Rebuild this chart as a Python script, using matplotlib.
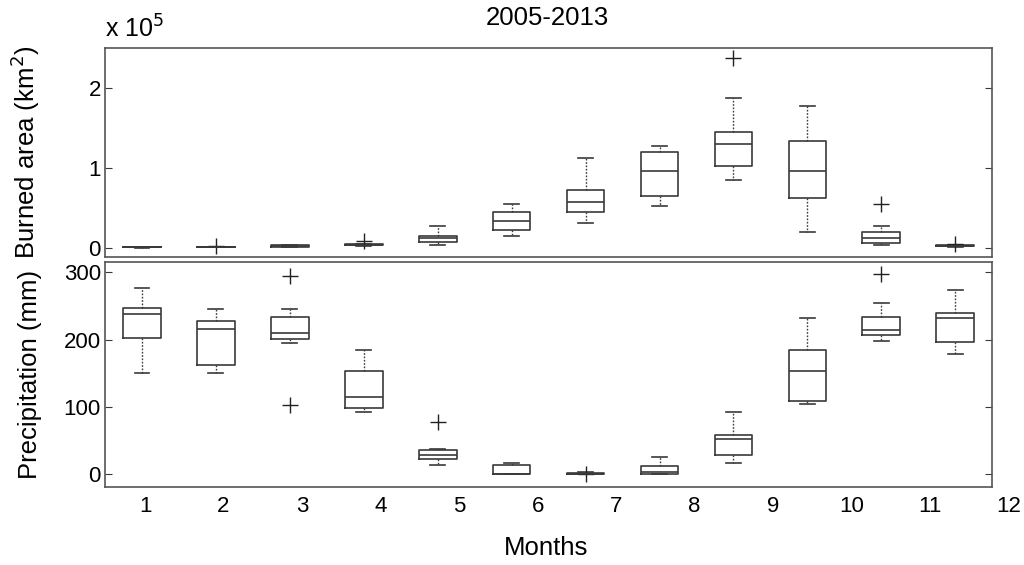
import matplotlib
matplotlib.use('Agg')
import matplotlib.pyplot as plt

plt.rcParams['font.family'] = ['Liberation Sans', 'DejaVu Sans']

months = list(range(1, 13))
month_labels = [str(m) for m in months]

# burned area, in units of 1e5 km2
ba_whislo = [0.003, 0.005, 0.012, 0.02, 0.04, 0.15, 0.31, 0.52, 0.85, 0.20, 0.03, 0.015]
ba_q1 = [0.005, 0.008, 0.015, 0.03, 0.07, 0.22, 0.45, 0.65, 1.025, 0.63, 0.06, 0.02]
ba_med = [0.008, 0.010, 0.02, 0.035, 0.12, 0.34, 0.57, 0.96, 1.30, 0.96, 0.12, 0.025]
ba_q3 = [0.012, 0.013, 0.03, 0.045, 0.15, 0.45, 0.72, 1.20, 1.45, 1.34, 0.20, 0.03]
ba_whishi = [0.015, 0.016, 0.033, 0.05, 0.27, 0.55, 1.12, 1.275, 1.87, 1.78, 0.27, 0.035]
ba_fliers = [[], [0.02], [], [0.08], [], [], [], [], [2.37], [], [0.55], [0.05]]

# precipitation, mm
pr_whislo = [151, 151, 195, 92, 14, 0, 0, 0, 17, 104, 198, 178]
pr_q1 = [203, 162, 201, 98, 23, 0, 0.5, 0.5, 28, 109, 207, 197]
pr_med = [238, 215, 210, 114, 28, 0.5, 1, 3.5, 53, 154, 214, 232]
pr_q3 = [247, 228, 233, 153, 36, 13, 2, 12, 58, 185, 233, 239]
pr_whishi = [276, 246, 246, 185, 38, 17, 3, 26, 92, 232, 254, 273]
pr_fliers = [[], [], [295, 103], [], [77], [], [1], [], [], [], [298], []]

line_col = '#3a3a3a'


def make_stats(lo, q1, med, q3, hi, fl):
    return [dict(whislo=a, q1=b, med=c, q3=d, whishi=e, fliers=f)
            for a, b, c, d, e, f in zip(lo, q1, med, q3, hi, fl)]


def draw(ax, stats):
    ax.bxp(stats, positions=months, widths=0.51, capwidths=0.2,
           showfliers=True, manage_ticks=False,
           boxprops=dict(color=line_col, linewidth=1.2),
           medianprops=dict(color=line_col, linewidth=1.2),
           whiskerprops=dict(color=line_col, linewidth=1.0, linestyle=(0, (1.2, 1.2))),
           capprops=dict(color=line_col, linewidth=1.2),
           flierprops=dict(marker='+', markeredgecolor='#222222', markersize=11,
                           markeredgewidth=1.0, linestyle='none'))
    ax.set_xlim(0.5, 12.5)
    ax.set_xticks([])
    ax.tick_params(axis='y', direction='in', left=True, right=True,
                   labelsize=16, length=5, color=line_col, pad=3)
    for s in ax.spines.values():
        s.set_color('#555555')
        s.set_linewidth(1.2)


fig = plt.figure(figsize=(10.24, 5.65), dpi=100)
ax1 = fig.add_axes([0.1025, 0.545, 0.8665, 0.370])
ax2 = fig.add_axes([0.1025, 0.138, 0.8665, 0.398])

draw(ax1, make_stats(ba_whislo, ba_q1, ba_med, ba_q3, ba_whishi, ba_fliers))
ax1.set_ylim(-0.115, 2.5)
ax1.set_yticks([0, 1, 2])
ax1.set_ylabel('Burned area (km$^2$)', fontsize=18.5)
ax1.yaxis.set_label_coords(-0.071, 0.5)
fig.text(547 / 1024, 1 - 18 / 565, '2005-2013', fontsize=18.5, ha='center', va='center')
fig.text(105 / 1024, 1 - 38 / 565, 'x 10$^5$', fontsize=18, ha='left', va='baseline')

draw(ax2, make_stats(pr_whislo, pr_q1, pr_med, pr_q3, pr_whishi, pr_fliers))
ax2.set_ylim(-19, 315)
ax2.set_yticks([0, 100, 200, 300])
ax2.set_ylabel('Precipitation (mm)', fontsize=18.5)
ax2.yaxis.set_label_coords(-0.071, 0.5)

# month labels sit slightly stretched relative to the boxes, as in the original
label_scale = 1.0618
for m, lab in zip(months, month_labels):
    ax2.text(m * label_scale - 0.02, -0.085, lab, transform=ax2.get_xaxis_transform(),
             ha='center', va='center', fontsize=16, clip_on=False)
ax2.text(0.497, -0.271, 'Months', transform=ax2.transAxes, ha='center',
         va='center', fontsize=18.5)

fig.savefig('out.png', dpi=100, facecolor='white')
